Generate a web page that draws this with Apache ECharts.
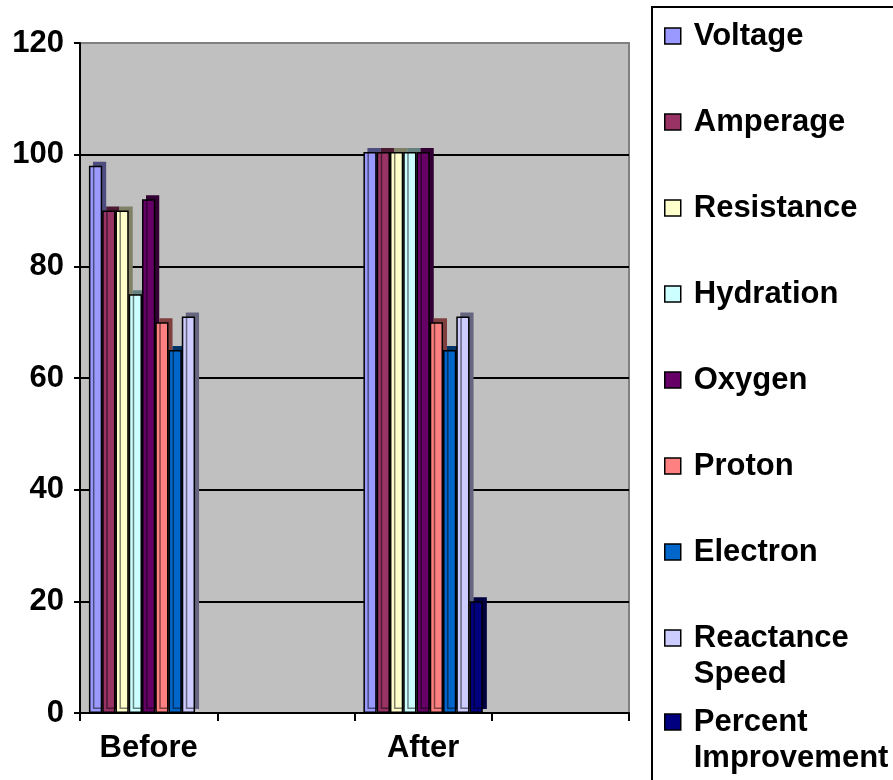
<!DOCTYPE html>
<html>
<head>
<meta charset="utf-8">
<script src="https://cdn.jsdelivr.net/npm/echarts@6/dist/echarts.min.js"></script>
<style>
html,body{margin:0;padding:0;background:#fff;}
#chart{width:893px;height:780px;}
</style>
</head>
<body>
<div id="chart"></div>
<script>
const categories = ['Before', '', 'After', ''];
const seriesNames = ['Voltage', 'Amperage', 'Resistance', 'Hydration', 'Oxygen', 'Proton', 'Electron', 'Reactance Speed', 'Percent Improvement'];
const voltage = [98, null, 100.5, null];
const amperage = [90, null, 100.5, null];
const resistance = [90, null, 100.5, null];
const hydration = [75, null, 100.5, null];
const oxygen = [92, null, 100.5, null];
const proton = [70, null, 70, null];
const electron = [65, null, 65, null];
const reactanceSpeed = [71, null, 71, null];
const percentImprovement = [null, null, 20, null];
const yTicks = [0, 20, 40, 60, 80, 100, 120];

const seriesValues = [voltage, amperage, resistance, hydration, oxygen, proton, electron, reactanceSpeed, percentImprovement];
const colors = ['#9999FF', '#993366', '#FFFFCC', '#CCFFFF', '#660066', '#FF8080', '#0066CC', '#CCCCFF', '#000080'];
const sideColors = ['#4D4D80', '#4D1A33', '#808066', '#668080', '#330033', '#804040', '#003366', '#666680', '#000040'];

const FONT = '"Liberation Sans", Arial, sans-serif';
const chart = echarts.init(document.getElementById('chart'), null, {renderer: 'canvas'});

const legendText = {
  fontFamily: FONT, fontSize: 31, fontWeight: 'bold', color: '#000', lineHeight: 36, padding: [0, 0, 0, 8]
};
const legendItemStyle = {borderColor: '#000', borderWidth: 1.5, shadowBlur: 0, shadowOffsetX: 0, shadowOffsetY: 0, shadowColor: 'rgba(0,0,0,0)'};
const twoLine = (n) => '\n' + n.replace(' ', '\n');

const option = {
  animation: false,
  backgroundColor: '#fff',
  graphic: [{
    type: 'rect', z: 0, silent: true,
    shape: {x: 652, y: 7, width: 300, height: 820},
    style: {fill: '#fff', stroke: '#000', lineWidth: 2}
  }],
  grid: {
    left: 80, right: 264, top: 43, bottom: 67,
    show: true, backgroundColor: '#C0C0C0', borderColor: '#808080', borderWidth: 2
  },
  legend: [
    {
      data: seriesNames.slice(0, 7), orient: 'vertical', left: 664, top: 18, padding: 0,
      itemWidth: 16, itemHeight: 16, itemGap: 50, icon: 'rect', selectedMode: false,
      itemStyle: legendItemStyle, textStyle: legendText
    },
    {
      data: [seriesNames[7]], orient: 'vertical', left: 664, top: 584, padding: 0,
      itemWidth: 16, itemHeight: 16, icon: 'rect', selectedMode: false,
      itemStyle: legendItemStyle, textStyle: legendText, formatter: twoLine
    },
    {
      data: [seriesNames[8]], orient: 'vertical', left: 664, top: 668, padding: 0,
      itemWidth: 16, itemHeight: 16, icon: 'rect', selectedMode: false,
      itemStyle: legendItemStyle, textStyle: legendText, formatter: twoLine
    }
  ],
  xAxis: {
    type: 'category', data: categories,
    axisLine: {show: true, lineStyle: {color: '#000', width: 2}},
    axisTick: {show: true, alignWithLabel: false, length: 8, lineStyle: {color: '#000', width: 2}},
    axisLabel: {fontFamily: FONT, fontSize: 31, fontWeight: 'bold', color: '#000', margin: 20, interval: 0},
    splitLine: {show: false}
  },
  yAxis: {
    type: 'value', min: yTicks[0], max: yTicks[yTicks.length - 1], interval: 20,
    axisLine: {show: true, lineStyle: {color: '#000', width: 2}},
    axisTick: {show: true, length: 6, lineStyle: {color: '#000', width: 2}},
    axisLabel: {fontFamily: FONT, fontSize: 31, fontWeight: 'bold', color: '#000', margin: 16},
    splitLine: {show: true, showMinLine: false, showMaxLine: false, lineStyle: {color: '#000', width: 2}}
  },
  series: seriesNames.map((name, i) => ({
    name: name, type: 'bar', data: seriesValues[i],
    barGap: 0, barCategoryGap: '13%',
    itemStyle: {
      color: colors[i], borderColor: '#000', borderWidth: 1.5,
      shadowColor: sideColors[i], shadowBlur: 0, shadowOffsetX: 4, shadowOffsetY: -4
    },
    emphasis: {disabled: true}
  }))
};
chart.setOption(option);
</script>
</body>
</html>
